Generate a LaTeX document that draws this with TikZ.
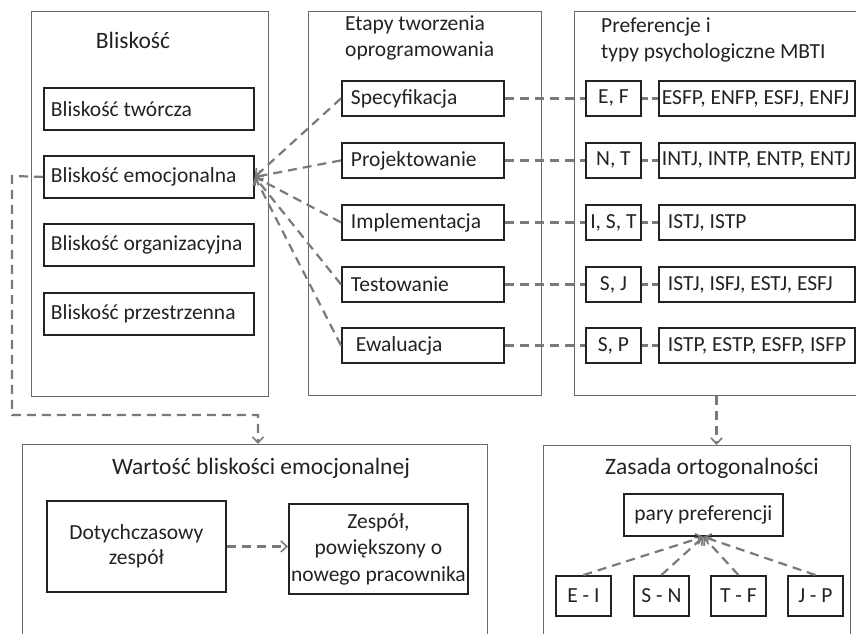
\documentclass[tikz,border=0pt]{standalone}
\usepackage{fontspec}
\setmainfont{Carlito}
\usetikzlibrary{arrows.meta}
\definecolor{txt}{HTML}{222222}
\definecolor{bord}{HTML}{222222}
\definecolor{obord}{HTML}{6A6A6A}
\definecolor{conn}{HTML}{7A7A7A}
\tikzset{
  every node/.style={font=\fontsize{21.5}{25.5}\selectfont, text=txt},
  bigtitle/.style={font=\fontsize{23.5}{28}\selectfont, text=txt},
  outerbox/.style={draw=obord, line width=1.1pt, anchor=north west, inner sep=0pt},
  ibox/.style={draw=bord, line width=1.8pt, anchor=north west, inner ysep=0pt},
  conline/.style={draw=conn, line width=2.2pt, dash pattern=on 9pt off 6pt},
  tip/.style={-{Straight Barb[length=6pt,width=11pt,line width=1.6pt]}}
}
\begin{document}
\begin{tikzpicture}[x=1pt,y=-1pt]
\useasboundingbox (0,0) rectangle (856,633);
\clip (0,0) rectangle (856,633);

% ---------- outer boxes ----------
\node[outerbox, minimum width=237pt, minimum height=385pt] (blo) at (31,11) {};
\node[outerbox, minimum width=233pt, minimum height=384pt] (eto) at (308,11) {};
\node[outerbox, minimum width=284pt, minimum height=384pt] (pro) at (574,11) {};
\node[outerbox, minimum width=465pt, minimum height=200pt] (war) at (22,444) {};
\node[outerbox, minimum width=307pt, minimum height=200pt] (zas) at (543,445) {};

% ---------- titles ----------
\node[bigtitle] (tblo) at (133,40) {Bliskość};
\node[anchor=north west, align=left, inner sep=0pt] (teto) at (345,16) {Etapy tworzenia\\oprogramowania};
\node[anchor=north west, align=left, inner sep=0pt] (tpro) at (601,18) {Preferencje i\\typy psychologiczne MBTI};
\node[bigtitle] (twar) at (261,468) {Wartość bliskości emocjonalnej};
\node[bigtitle] (tzas) at (712,468) {Zasada ortogonalności};

% ---------- Bliskość ----------
\tikzset{bl/.style={ibox, minimum height=42pt, text width=196pt, inner xsep=7pt, align=flush left}}
\node[bl] (b1) at (43,87) {Bliskość twórcza};
\node[bl] (b2) at (43,155) {Bliskość emocjonalna};
\node[bl] (b3) at (43,223) {Bliskość organizacyjna};
\node[bl] (b4) at (43,292) {Bliskość przestrzenna};

% ---------- Etapy ----------
\tikzset{st/.style={ibox, minimum height=35pt, text width=144pt, inner xsep=9pt, align=flush left}}
\node[st] (s1) at (341,80) {Specyfikacja};
\node[st] (s2) at (341,142) {Projektowanie};
\node[st] (s3) at (341,204) {Implementacja};
\node[st] (s4) at (341,266) {Testowanie};
\node[st] (s5) at (341,327) {\hspace*{5pt}Ewaluacja};

% ---------- Preferencje ----------
\tikzset{pr/.style={ibox, minimum height=35pt, minimum width=55pt, inner xsep=0pt, align=center},
         ty/.style={ibox, minimum height=35pt, text width=190pt, inner xsep=3pt, align=flush left}}
\node[pr] (p1) at (585,80) {E, F};
\node[pr] (p2) at (585,142) {N, T};
\node[pr] (p3) at (585,204) {I, S, T};
\node[pr] (p4) at (585,266) {S, J};
\node[pr] (p5) at (585,327) {S, P};
\node[ty] (y1) at (658,80) {\mbox{ESFP, ENFP, ESFJ, ENFJ}};
\node[ty] (y2) at (658,142) {\mbox{INTJ, INTP, ENTP, ENTJ}};
\node[ty] (y3) at (658,204) {\mbox{\hspace*{6pt}ISTJ, ISTP}};
\node[ty] (y4) at (658,266) {\mbox{\hspace*{6pt}ISTJ, ISFJ, ESTJ, ESFJ}};
\node[ty] (y5) at (658,327) {\mbox{\hspace*{6pt}ISTP, ESTP, ESFP, ISFP}};

% ---------- Wartość ----------
\node[ibox, minimum width=179pt, minimum height=91pt, text width=164pt, inner xsep=4.5pt, align=flush center] (d1) at (46,500) {Dotychczasowy\\zespół};
\node[ibox, minimum width=179pt, minimum height=90pt, text width=176pt, inner xsep=1.5pt, align=flush center, font=\fontsize{21.5}{26.5}\selectfont] (d2) at (288,503) {Zespół,\\powiększony o\\nowego pracownika};

% ---------- Zasada ----------
\node[ibox, minimum width=159pt, minimum height=42pt, inner xsep=0pt, align=center] (pary) at (623,493) {pary preferencji};
\tikzset{pp/.style={ibox, minimum height=40pt, minimum width=55pt, inner xsep=0pt, align=center}}
\node[pp] (z1) at (555,575) {E - I};
\node[pp] (z2) at (633,575) {S - N};
\node[pp] (z3) at (710,575) {T - F};
\node[pp] (z4) at (787,575) {J - P};

% ---------- connectors ----------
\foreach \i in {1,...,5} {
  \draw[conline, tip] (s\i.west) -- (b2.east);
  \draw[conline] (s\i.east) -- (p\i.west);
  \draw[conline, dash pattern=on 6pt off 4pt] (p\i.east) -- (y\i.west);
}
\coordinate (c1) at (12,176);
\coordinate (c2) at (12,415);
\coordinate (c3) at (258,415);
\draw[conline, tip] (b2.west) -- (c1) -- (c2) -- (c3) -- (c3 |- war.north);
\draw[conline, tip] (d1.east) -- (d1.east -| d2.west);
\draw[conline, tip] (pro.south) -- (pro.south |- zas.north);
\foreach \i in {1,...,4} {
  \draw[conline, tip] (z\i.north) -- (pary.south);
}
\end{tikzpicture}
\end{document}
